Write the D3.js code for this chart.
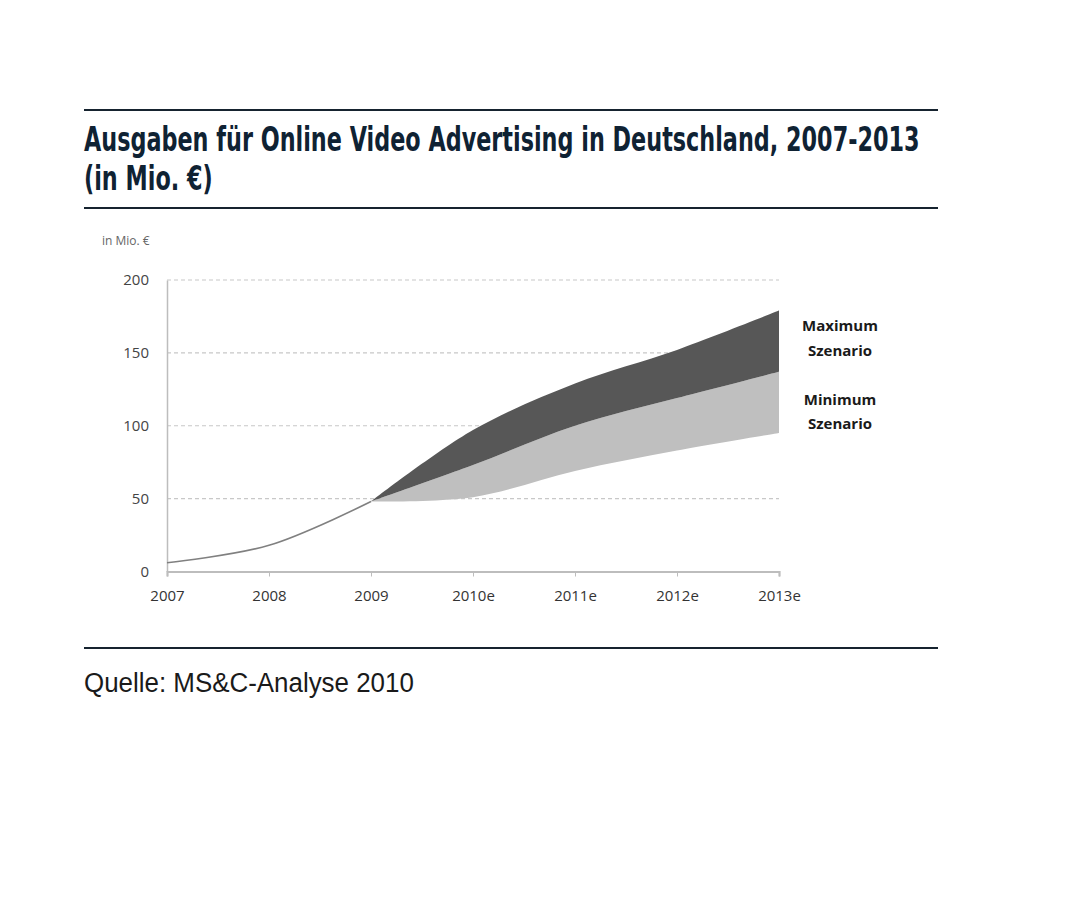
<!DOCTYPE html>
<html><head><meta charset="utf-8">
<script src="https://cdn.jsdelivr.net/npm/d3@7"></script>
<style>body{margin:0;background:#fff;} svg{display:block;}</style>
</head><body>
<svg id="c" width="1065" height="900"></svg>
<script>
const years = ["2007","2008","2009","2010e","2011e","2012e","2013e"];
const actual = [6, 18, 48];               // 2007-2009
const forecastYears = ["2009","2010e","2011e","2012e","2013e"];
const lowerBound = [48, 51, 69, 83, 95];
const minScenario = [48, 73, 100, 119, 137];
const maxScenario = [48, 97, 129, 152, 179];
const yTicks = [0, 50, 100, 150, 200];

const svg = d3.select("#c");
const ruleColor = "#16232f";
const x = d3.scalePoint().domain(years).range([167, 779]);
const y = d3.scaleLinear().domain([0, 200]).range([571.5, 280]);

// rules
[110, 208, 648].forEach(yy => svg.append("line").attr("x1",84).attr("x2",938).attr("y1",yy).attr("y2",yy)
  .attr("stroke",ruleColor).attr("stroke-width",2.2));

// horizontally compressed text (condensed look)
function squeezed(txt, x0, y0, fs, weight, color, targetW, family) {
  const t = svg.append("text").attr("x",0).attr("y",0).attr("font-family",family)
    .attr("font-weight",weight).attr("font-size",fs).attr("fill",color).text(txt);
  const w = t.node().getComputedTextLength();
  const k = targetW / w;
  t.attr("transform",`translate(${x0},${y0}) scale(${k},1)`);
  return k;
}
const tf = "'DejaVu Sans','Liberation Sans',sans-serif";
const k = squeezed("Ausgaben für Online Video Advertising in Deutschland, 2007-2013", 84, 151, 34, "bold", "#0f2233", 836, tf);
const t2 = svg.append("text").attr("x",0).attr("y",0).attr("font-family",tf).attr("font-weight","bold")
  .attr("font-size",34).attr("fill","#0f2233").text("(in Mio. €)")
  .attr("transform",`translate(84,190) scale(${k},1)`);

// source
squeezed("Quelle: MS&C-Analyse 2010", 84, 692, 27, "normal", "#1a1a1a", 330, "'Liberation Sans','DejaVu Sans',sans-serif");

// unit label
svg.append("text").attr("x",102).attr("y",245).attr("font-family","'Open Sans',sans-serif")
  .attr("font-size",12).attr("fill","#666").text("in Mio. €");

// gridlines
svg.append("g").selectAll("line").data(yTicks.filter(d=>d>0)).join("line")
  .attr("x1",167).attr("x2",779).attr("y1",d=>y(d)).attr("y2",d=>y(d))
  .attr("stroke","#c8c8c8").attr("stroke-width",1.2).attr("stroke-dasharray","4,3");

// y axis
const yAxis = svg.append("g").attr("transform","translate(167,0)")
  .call(d3.axisLeft(y).tickValues(yTicks).tickSize(0).tickPadding(18));
yAxis.select(".domain").attr("stroke","#bdbdbd").attr("stroke-width",1.5);
yAxis.selectAll("text").attr("font-family","'Open Sans',sans-serif").attr("font-size",15).attr("fill","#444");

// areas
const fy = forecastYears.map((yr,i)=>({yr, lo:lowerBound[i], mi:minScenario[i], ma:maxScenario[i]}));
const curve = d3.curveCatmullRom.alpha(0.5);
svg.append("path").datum(fy).attr("fill","#bfbfbf")
  .attr("d", d3.area().x(d=>x(d.yr)).y0(d=>y(d.lo)).y1(d=>y(d.mi)).curve(curve));
svg.append("path").datum(fy).attr("fill","#575757")
  .attr("d", d3.area().x(d=>x(d.yr)).y0(d=>y(d.mi)).y1(d=>y(d.ma)).curve(curve));

// actual line
svg.append("path").datum(actual.map((v,i)=>({yr:years[i], v})))
  .attr("fill","none").attr("stroke","#808080").attr("stroke-width",1.6)
  .attr("d", d3.line().x(d=>x(d.yr)).y(d=>y(d.v)).curve(curve));

// x axis
const xAxis = svg.append("g").attr("transform",`translate(0,${y(0)})`)
  .call(d3.axisBottom(x).tickSize(5).tickPadding(14));
xAxis.select(".domain").attr("stroke","#bdbdbd").attr("stroke-width",2.2);
xAxis.selectAll(".tick line").attr("stroke","#bdbdbd");
xAxis.selectAll("text").attr("font-family","'Open Sans',sans-serif").attr("font-size",15).attr("fill","#333");

// scenario labels
const lf = "'Open Sans',sans-serif";
const labels = [["Maximum",331],["Szenario",356],["Minimum",405],["Szenario",429]];
svg.append("g").selectAll("text").data(labels).join("text")
  .attr("x",840).attr("y",d=>d[1]).attr("text-anchor","middle").attr("font-family",lf)
  .attr("font-weight","bold").attr("font-size",15).attr("fill","#1a1a1a").text(d=>d[0]);
</script>
</body></html>
